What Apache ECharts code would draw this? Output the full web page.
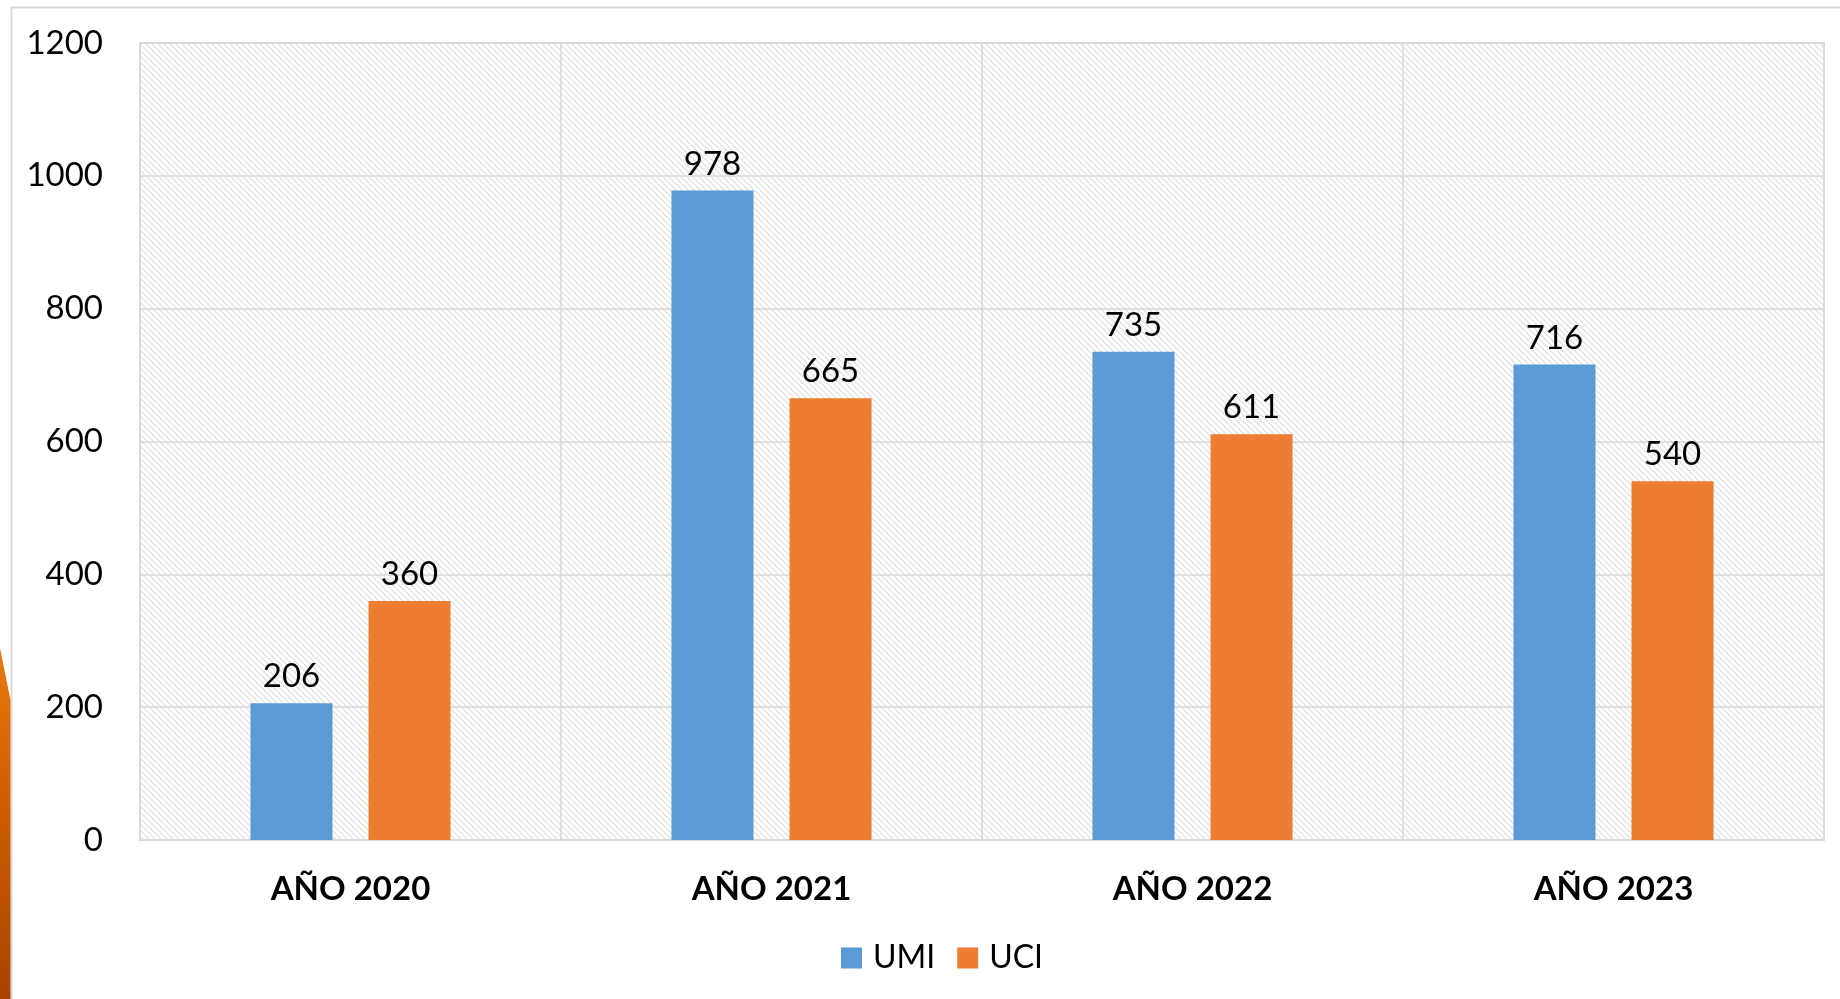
<!DOCTYPE html>
<html>
<head>
<meta charset="utf-8">
<script src="https://cdn.jsdelivr.net/npm/echarts@6/dist/echarts.min.js"></script>
<style>
html,body{margin:0;padding:0;background:#fff;}
#main{width:1840px;height:999px;}
</style>
</head>
<body>
<div id="main"></div>
<script>
const categories = ['AÑO 2020', 'AÑO 2021', 'AÑO 2022', 'AÑO 2023'];
const umiValues = [206, 978, 735, 716];
const uciValues = [360, 665, 611, 540];
const seriesNames = ['UMI', 'UCI'];
const yTicks = { min: 0, max: 1200, interval: 200 };

function makeHatch() {
  const c = document.createElement('canvas');
  const s = 6;
  c.width = s; c.height = s;
  const ctx = c.getContext('2d');
  ctx.fillStyle = '#ffffff';
  ctx.fillRect(0, 0, s, s);
  ctx.strokeStyle = '#e4e4e4';
  ctx.lineWidth = 1.5;
  ctx.beginPath();
  ctx.moveTo(-1, -1); ctx.lineTo(s + 1, s + 1);
  ctx.moveTo(-1 - s, -1); ctx.lineTo(1, s + 1);
  ctx.moveTo(s - 1, -1); ctx.lineTo(2 * s + 1, s + 1);
  ctx.stroke();
  return c;
}

const chart = echarts.init(document.getElementById('main'));
const font = 'Lato, "Open Sans", sans-serif';
chart.setOption({
  backgroundColor: '#ffffff',
  animation: false,
  graphic: [
    {
      type: 'rect', z: -10,
      shape: { x: 11.5, y: 7.5, width: 1900, height: 1100 },
      style: { fill: null, stroke: '#d9d9d9', lineWidth: 2 }
    },
    {
      type: 'polygon', z: -5,
      shape: { points: [[0, 648], [4, 668], [10.5, 700], [10.5, 999], [0, 999]] },
      style: {
        fill: new echarts.graphic.LinearGradient(0, 0, 0, 1, [
          { offset: 0, color: '#e67a0e' },
          { offset: 0.4, color: '#d06004' },
          { offset: 1, color: '#a84200' }
        ])
      }
    }
  ],
  grid: {
    left: 140, right: 16, top: 43, bottom: 159,
    show: true,
    backgroundColor: { image: makeHatch(), repeat: 'repeat' },
    borderColor: '#d9d9d9',
    borderWidth: 2
  },
  legend: {
    data: seriesNames,
    left: 836, top: 937,
    itemWidth: 21, itemHeight: 21,
    itemGap: 22,
    icon: 'rect',
    textStyle: { fontFamily: font, fontSize: 32, color: '#000', padding: [0, 0, 0, 6] }
  },
  xAxis: {
    type: 'category',
    data: categories,
    axisLine: { show: true, lineStyle: { color: '#d9d9d9', width: 2 } },
    axisTick: { show: false },
    splitLine: { show: true, lineStyle: { color: '#d9d9d9', width: 1.5 } },
    axisLabel: { fontFamily: font, fontSize: 33, fontWeight: 'bold', color: '#000', margin: 33 }
  },
  yAxis: {
    type: 'value',
    min: yTicks.min, max: yTicks.max, interval: yTicks.interval,
    axisLine: { show: false },
    axisTick: { show: false },
    splitLine: { show: true, lineStyle: { color: '#d9d9d9', width: 1.5 } },
    axisLabel: { fontFamily: font, fontSize: 33, color: '#000', margin: 37, formatter: function (v) { return String(v); } }
  },
  series: [
    {
      name: seriesNames[0], type: 'bar', data: umiValues,
      barWidth: 82, barGap: '44%',
      itemStyle: { color: '#5b9bd5' },
      label: { show: true, position: 'top', distance: 10, fontFamily: font, fontSize: 33, color: '#000' }
    },
    {
      name: seriesNames[1], type: 'bar', data: uciValues,
      barWidth: 82, barGap: '44%',
      itemStyle: { color: '#ed7d31' },
      label: { show: true, position: 'top', distance: 10, fontFamily: font, fontSize: 33, color: '#000' }
    }
  ]
});
</script>
</body>
</html>
